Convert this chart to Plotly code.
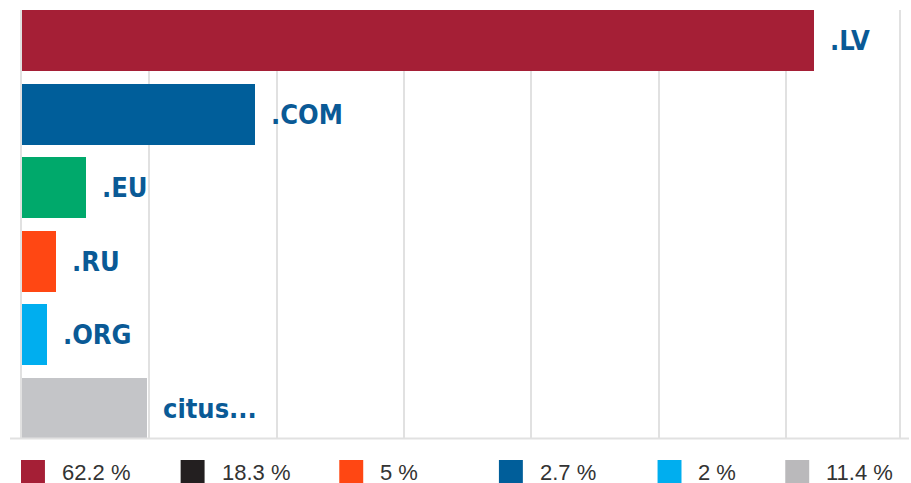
import plotly.graph_objects as go

# ---- data ----
categories = [".LV", ".COM", ".EU", ".RU", ".ORG", "citus..."]
bar_values = [62.2, 18.3, 5.0, 2.7, 2.0, 9.8]
bar_colors = ["#a51f36", "#005e9a", "#00a96b", "#ff4713", "#00aeef", "#c4c5c8"]
legend_labels = ["62.2 %", "18.3 %", "5 %", "2.7 %", "2 %", "11.4 %"]
legend_colors = ["#a51f36", "#231f20", "#ff4713", "#005e9a", "#00aeef", "#bab9bb"]

# ---- layout constants (pixels) ----
W, H = 911, 483
ML, MR, MT, MB = 22, 10, 10, 44
PW, PH = W - ML - MR, H - MT - MB
BAR_W = 0.8288
LEGEND_LEFT = [21, 181, 340, 500, 659, 787]


def px_x(px):
    return (px - ML) / PW


def px_y(py):
    return (H - MB - py) / PH


ypos = list(range(len(categories)))

fig = go.Figure()
fig.add_trace(go.Bar(
    x=bar_values, y=ypos, orientation="h",
    marker=dict(color=bar_colors, line=dict(width=0)),
    width=BAR_W, showlegend=False, hoverinfo="x+text", hovertext=categories,
))

annotations = []
for v, yy, name in zip(bar_values, ypos, categories):
    annotations.append(dict(
        x=v, y=yy, xref="x", yref="y", text=name, showarrow=False,
        xanchor="left", yanchor="middle", xshift=14,
        font=dict(family="DejaVu Sans Condensed", size=27, color="#0a5a96", weight="bold"),
    ))

shapes = [dict(type="line", xref="paper", yref="paper",
               x0=px_x(10), x1=px_x(911), y0=px_y(438.5), y1=px_y(438.5),
               line=dict(color="#e1e1e1", width=2), layer="above")]

for lx, lab, col in zip(LEGEND_LEFT, legend_labels, legend_colors):
    shapes.append(dict(type="rect", xref="paper", yref="paper",
                       x0=px_x(lx), x1=px_x(lx + 24), y0=px_y(460), y1=px_y(483),
                       fillcolor=col, line=dict(width=0)))
    annotations.append(dict(
        x=px_x(lx + 39), y=px_y(472), xref="paper", yref="paper", text=lab,
        showarrow=False, xanchor="left", yanchor="middle",
        font=dict(family="Liberation Sans", size=22, color="#333333"),
    ))

fig.update_layout(
    width=W, height=H,
    margin=dict(l=ML, r=MR, t=MT, b=MB, pad=0),
    plot_bgcolor="white", paper_bgcolor="white",
    bargap=0,
    xaxis=dict(range=[0, PW / (794 / 62.2)], dtick=10, showgrid=True,
               gridcolor="#e1e1e1", gridwidth=2, zeroline=False,
               showticklabels=False, ticks="", showline=False, fixedrange=True),
    yaxis=dict(range=[len(categories) - 1 + BAR_W / 2, -BAR_W / 2],
               showgrid=False, zeroline=False, showticklabels=False, ticks="",
               showline=True, mirror=True, linecolor="#e1e1e1", linewidth=2,
               fixedrange=True),
    annotations=annotations, shapes=shapes,
)

fig.write_html(
    "out.html",
    config={"displayModeBar": False},
    post_script="document.body.style.margin='0';document.body.style.overflow='hidden';",
)
